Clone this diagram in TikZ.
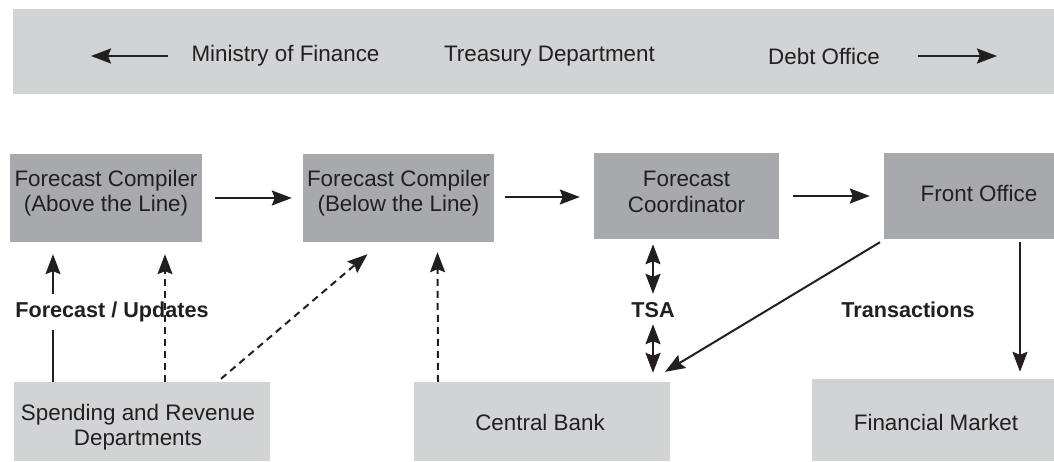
\documentclass[tikz,border=0pt]{standalone}
\usepackage{fontspec}
\setmainfont{Liberation Sans}
\usetikzlibrary{arrows.meta,calc}
\definecolor{lightbox}{HTML}{D1D3D4}
\definecolor{darkbox}{HTML}{A7A9AC}
\definecolor{ink}{HTML}{231F20}
\tikzset{
  boxtext/.style={font=\fontsize{22.4}{25.5}\selectfont, text=ink, align=center},
  topbox/.style={boxtext, fill=darkbox, inner sep=0pt},
  botbox/.style={boxtext, fill=lightbox, inner sep=0pt},
  lbl/.style={font=\fontsize{21.6}{25}\selectfont\bfseries, text=ink},
  conn/.style={draw=ink, line width=2pt, -{Stealth[length=20pt,width=15pt,inset=3pt]}},
  dconn/.style={conn, dash pattern=on 7pt off 5pt},
  biconn/.style={draw=ink, line width=2pt, {Stealth[length=20pt,width=15pt,inset=3pt]}-{Stealth[length=20pt,width=15pt,inset=3pt]}},
}
\begin{document}
\begin{tikzpicture}[x=1pt,y=-1pt]
\path[use as bounding box] (0,0) rectangle (1054,461);
% banner
\node[fill=lightbox, minimum width=1041pt, minimum height=85pt, inner sep=0pt] (banner) at (533.5,51.5) {};
\node[boxtext] (mof) at (285.5,56) {Ministry of Finance};
\node[boxtext] (td) at (549.5,56) {Treasury Department};
\node[boxtext] (debt) at (824,56) {Debt Office};
\coordinate (la1) at (168,56);
\coordinate (la2) at (91,56);
\coordinate (ra1) at (918,56);
\coordinate (ra2) at (997,56);
\draw[conn] (la1) -- (la2);
\draw[conn] (ra1) -- (ra2);
% top boxes
\node[topbox, minimum width=192pt, minimum height=88pt] (A) at (106,198) {};
\node[boxtext] at (106,193) {Forecast Compiler\\(Above the Line)};
\node[topbox, minimum width=191pt, minimum height=88pt] (B) at (398.5,198) {};
\node[boxtext] at (398.5,193) {Forecast Compiler\\(Below the Line)};
\node[topbox, minimum width=185pt, minimum height=86pt] (C) at (686.5,196) {};
\node[boxtext] at (686.5,192) {Forecast\\Coordinator};
\node[topbox, minimum width=170pt, minimum height=86pt] (D) at (969,196) {};
\node[boxtext] at (979,193) {Front Office};
% bottom boxes
\node[botbox, minimum width=256pt, minimum height=79pt] (S) at (142,421.5) {};
\node[boxtext] at (138,427) {Spending and Revenue\\Departments};
\node[botbox, minimum width=256pt, minimum height=79pt] (CB) at (542,421.5) {};
\node[boxtext] at (540,422) {Central Bank};
\node[botbox, minimum width=242pt, minimum height=82pt] (FM) at (933,420) {};
\node[boxtext] at (936,422) {Financial Market};
% horizontal flow
\draw[conn] ($(A.east)+(13,0)$) -- ($(B.west)+(-11,0)$);
\draw[conn] ($(B.east)+(11,-1)$) -- ($(C.west)+(-14,1)$);
\draw[conn] ($(C.east)+(14,0)$) -- ($(D.west)+(-14,0)$);
% forecast / updates
\draw[conn] ($(S.north)+(-89,0)$) -- ($(A.south)+(-53,12)$);
\node[lbl, fill=white, inner ysep=8pt, inner xsep=2pt] (fu) at (112,312) {Forecast / Updates};
\draw[dconn] ($(S.north)+(23,0)$) -- ($(A.south)+(59,12)$);
\draw[dconn] ($(S.north)+(79,-3)$) -- ($(B.south)+(-31,12)$);
\draw[dconn] ($(CB.north)+(-104,0)$) -- ($(B.south)+(39,10)$);
% TSA
\node[lbl] (tsa) at (653,310) {TSA};
\draw[biconn] ($(C.south)+(-33.5,5)$) -- ($(tsa.north)+(0,-5)$);
\draw[biconn] ($(tsa.south)+(0,3)$) -- ($(CB.north)+(111,-9)$);
% transactions
\node[lbl] (tr) at (908,310) {Transactions};
\draw[conn] ($(D.south)+(-89,3)$) -- ($(CB.north)+(123,-10)$);
\draw[conn] ($(D.south)+(51,3)$) -- ($(FM.north)+(87,-7)$);
\end{tikzpicture}
\end{document}
